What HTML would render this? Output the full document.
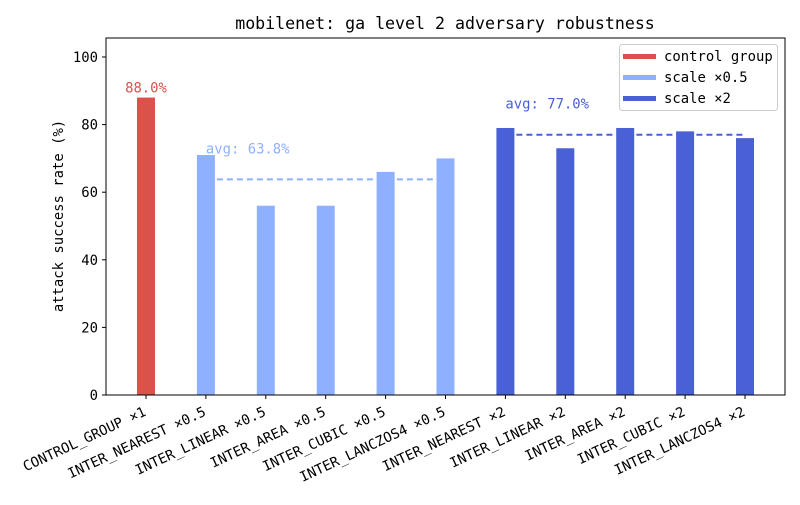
<!DOCTYPE html>
<html><head><meta charset="utf-8"><style>
body{margin:0;background:#fff}
svg text{font-family:"DejaVu Sans Mono","Liberation Mono",monospace}
</style></head><body>
<svg id="chart" width="800" height="500" xmlns="http://www.w3.org/2000/svg">
<rect width="800" height="500" fill="#fff"/>
<text x="445" y="29" text-anchor="middle" font-size="16.6">mobilenet: ga level 2 adversary robustness</text>
<g id="plot"></g>
<rect x="106" y="38" width="679" height="357" fill="none" stroke="#000" stroke-width="1"/>
<text transform="translate(63,216) rotate(-90)" text-anchor="middle" font-size="13.9">attack success rate (%)</text>
<g>
<rect x="619.5" y="44.5" width="158" height="66" rx="3" fill="#fff" fill-opacity="0.8" stroke="#ccc"/>
<rect x="623" y="54" width="33" height="5" fill="#d9534a"/>
<text x="664" y="61" font-size="13.9">control group</text>
<rect x="623" y="75" width="33" height="5" fill="#8fb0ff"/>
<text x="664" y="82" font-size="13.9">scale ×0.5</text>
<rect x="623" y="96" width="33" height="5" fill="#4a60d6"/>
<text x="664" y="103" font-size="13.9">scale ×2</text>
</g>
</svg>
<script>
const categories=["CONTROL_GROUP ×1","INTER_NEAREST ×0.5","INTER_LINEAR ×0.5","INTER_AREA ×0.5","INTER_CUBIC ×0.5","INTER_LANCZOS4 ×0.5","INTER_NEAREST ×2","INTER_LINEAR ×2","INTER_AREA ×2","INTER_CUBIC ×2","INTER_LANCZOS4 ×2"];
const values=[88,71,56,56,66,70,79,73,79,78,76];
const groups=[0,1,1,1,1,1,2,2,2,2,2];
const yTicks=[0,20,40,60,80,100];
const colors=["#d9534a","#8fb0ff","#4a60d6"];
const NS="http://www.w3.org/2000/svg";
const g=document.getElementById('plot');
const xs=i=>146+i*59.9;
const ys=v=>395-v*3.38;
function el(t,a){const e=document.createElementNS(NS,t);for(const k in a)e.setAttribute(k,a[k]);g.appendChild(e);return e;}
yTicks.forEach(t=>{
 const l=el('line',{x1:102,x2:106,y1:ys(t),y2:ys(t),stroke:'#000'});
 
 
 const tx=el('text',{x:98,y:ys(t)+5,'text-anchor':'end','font-size':13.9});tx.textContent=t;
 
 
});
values.forEach((v,i)=>{
 const r=el('rect',{x:xs(i)-9,y:ys(v),width:18,height:ys(0)-ys(v),fill:colors[groups[i]]});
 
 
 const l=el('line',{x1:xs(i),x2:xs(i),y1:395,y2:399,stroke:'#000'});
 
 
 const tx=el('text',{'text-anchor':'end','font-size':13.9,transform:`translate(${xs(i)+1},${415}) rotate(-25)`});
 tx.textContent=categories[i];
 
 
});
const c=el('text',{x:xs(0),y:ys(values[0])-5,'text-anchor':'middle','font-size':13.9,fill:colors[0]});
c.textContent=values[0].toFixed(1)+'%';


[1,2].forEach(gr=>{
 const idx=groups.map((x,i)=>x===gr?i:-1).filter(i=>i>=0);
 const avg=idx.reduce((s,i)=>s+values[i],0)/idx.length;
 const ln=el('line',{x1:xs(idx[0])+11,x2:xs(idx[idx.length-1])+(gr===2?0:-10),y1:ys(avg),y2:ys(avg),stroke:colors[gr],'stroke-width':2,'stroke-dasharray':'6,4'});
 
 
 const t=el('text',{x:xs(idx[0]),y:ys(avg)-26,'font-size':13.9,fill:colors[gr]});
 t.textContent='avg: '+avg.toFixed(1)+'%';
 
 
});
</script>
</body></html>
